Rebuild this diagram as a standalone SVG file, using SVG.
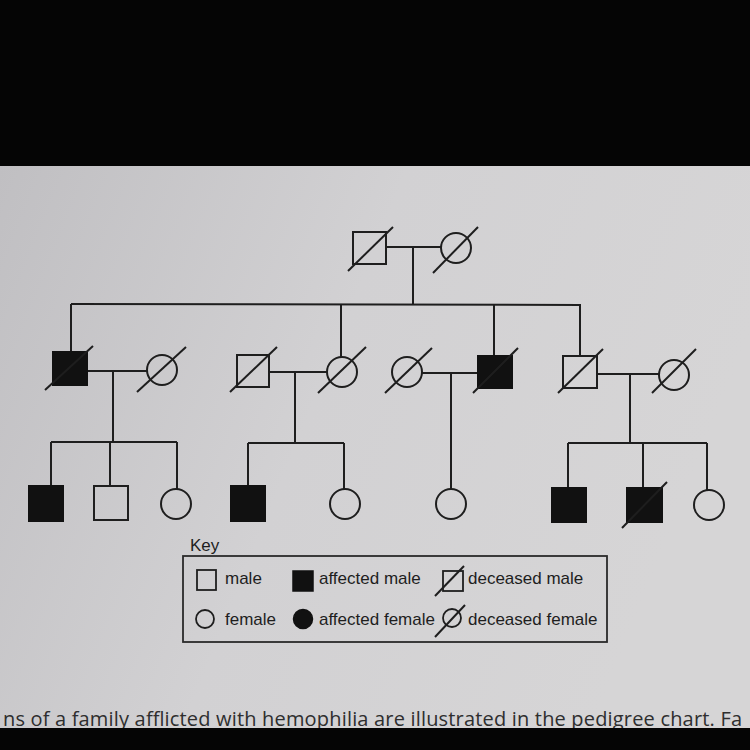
<svg xmlns="http://www.w3.org/2000/svg" width="750" height="750" viewBox="0 0 750 750">
  <defs>
    <linearGradient id="paper" x1="0" y1="0" x2="1" y2="0.3">
      <stop offset="0" stop-color="#c0bfc2"/>
      <stop offset="0.5" stop-color="#d2d1d3"/>
      <stop offset="1" stop-color="#d6d5d6"/>
    </linearGradient>
    <style>
      .ln { stroke: #1e1e1e; stroke-width: 2; fill: none; }
      .sym { stroke: #1e1e1e; stroke-width: 2; fill: none; }
      .aff { stroke: #111; stroke-width: 2; fill: #111; }
      .dec { stroke: #1e1e1e; stroke-width: 2; }
      .ks { stroke: #1e1e1e; stroke-width: 1.8; fill: none; }
      .kf { stroke: #111; stroke-width: 1.5; fill: #111; }
      .kt { font-family: "Liberation Sans", Arial, sans-serif; font-size: 17px; fill: #1e1e1e; }
    </style>
  </defs>

  <!-- background photo framing -->
  <rect x="0" y="0" width="750" height="750" fill="#050505"/>
  <rect x="0" y="166" width="750" height="562" fill="url(#paper)"/>

  <!-- connectors -->
  <g id="connectors" class="ln">
    <!-- generation I -->
    <line x1="386" y1="247" x2="441" y2="247"/>
    <line x1="413" y1="247" x2="413" y2="305"/>
    <line x1="71" y1="304" x2="581" y2="305"/>
    <line x1="71" y1="304" x2="71" y2="352"/>
    <line x1="341" y1="304" x2="341" y2="357"/>
    <line x1="494" y1="305" x2="494" y2="356"/>
    <line x1="580" y1="305" x2="580" y2="356"/>
    <!-- generation II couples -->
    <line x1="87" y1="371" x2="147" y2="371"/>
    <line x1="113" y1="371" x2="113" y2="442"/>
    <line x1="269" y1="372" x2="327" y2="372"/>
    <line x1="295" y1="372" x2="295" y2="443"/>
    <line x1="422" y1="373" x2="478" y2="373"/>
    <line x1="451" y1="373" x2="451" y2="489"/>
    <line x1="597" y1="374" x2="659" y2="374"/>
    <line x1="630" y1="374" x2="630" y2="443"/>
    <!-- generation III sibships -->
    <line x1="51" y1="442" x2="177" y2="442"/>
    <line x1="51" y1="442" x2="51" y2="486"/>
    <line x1="110" y1="442" x2="110" y2="486"/>
    <line x1="177" y1="442" x2="177" y2="489"/>
    <line x1="248" y1="443" x2="344" y2="443"/>
    <line x1="248" y1="443" x2="248" y2="486"/>
    <line x1="344" y1="443" x2="344" y2="489"/>
    <line x1="568" y1="443" x2="707" y2="443"/>
    <line x1="568" y1="443" x2="568" y2="488"/>
    <line x1="643" y1="443" x2="643" y2="488"/>
    <line x1="707" y1="443" x2="707" y2="490"/>
  </g>

  <!-- generation I -->
  <g id="I-1">
    <rect class="sym" x="353" y="232" width="33" height="32"/>
    <line class="dec" x1="348" y1="271" x2="393" y2="227"/>
  </g>
  <g id="I-2">
    <circle class="sym" cx="456" cy="248" r="15"/>
    <line class="dec" x1="433" y1="273" x2="478" y2="227"/>
  </g>

  <!-- generation II -->
  <g id="II-1">
    <rect class="aff" x="53" y="352" width="34" height="33"/>
    <line class="dec" x1="45" y1="390" x2="93" y2="346"/>
  </g>
  <g id="II-2">
    <circle class="sym" cx="162" cy="370" r="15"/>
    <line class="dec" x1="137" y1="392" x2="186" y2="347"/>
  </g>
  <g id="II-3">
    <rect class="sym" x="237" y="355" width="32" height="32"/>
    <line class="dec" x1="230" y1="392" x2="277" y2="347"/>
  </g>
  <g id="II-4">
    <circle class="sym" cx="342" cy="372" r="15"/>
    <line class="dec" x1="318" y1="393" x2="366" y2="347"/>
  </g>
  <g id="II-5">
    <circle class="sym" cx="407" cy="372" r="15"/>
    <line class="dec" x1="385" y1="393" x2="432" y2="348"/>
  </g>
  <g id="II-6">
    <rect class="aff" x="478" y="356" width="34" height="32"/>
    <line class="dec" x1="473" y1="393" x2="518" y2="348"/>
  </g>
  <g id="II-7">
    <rect class="sym" x="563" y="356" width="34" height="32"/>
    <line class="dec" x1="558" y1="393" x2="603" y2="349"/>
  </g>
  <g id="II-8">
    <circle class="sym" cx="674" cy="375" r="15"/>
    <line class="dec" x1="652" y1="393" x2="696" y2="349"/>
  </g>

  <!-- generation III -->
  <g id="III-1"><rect class="aff" x="29" y="486" width="34" height="35"/></g>
  <g id="III-2"><rect class="sym" x="94" y="486" width="34" height="34"/></g>
  <g id="III-3"><circle class="sym" cx="176" cy="504" r="15"/></g>
  <g id="III-4"><rect class="aff" x="231" y="486" width="34" height="35"/></g>
  <g id="III-5"><circle class="sym" cx="345" cy="504" r="15"/></g>
  <g id="III-6"><circle class="sym" cx="451" cy="504" r="15"/></g>
  <g id="III-7"><rect class="aff" x="552" y="488" width="34" height="34"/></g>
  <g id="III-8">
    <rect class="aff" x="627" y="488" width="35" height="34"/>
    <line class="dec" x1="622" y1="528" x2="667" y2="482"/>
  </g>
  <g id="III-9"><circle class="sym" cx="709" cy="505" r="15"/></g>

  <!-- key -->
  <g id="key">
    <text class="kt" x="190" y="551" font-size="15">Key</text>
    <rect x="183" y="556" width="424" height="86" fill="none" stroke="#2a2a2a" stroke-width="1.8"/>
    <rect class="ks" x="197" y="570" width="19" height="20"/>
    <text class="kt" x="225" y="584">male</text>
    <rect class="kf" x="293" y="571" width="20" height="20"/>
    <text class="kt" x="319" y="584">affected male</text>
    <rect class="ks" x="443" y="571" width="20" height="20"/>
    <line class="dec" stroke-width="1.8" x1="435" y1="596" x2="464" y2="566"/>
    <text class="kt" x="468" y="584">deceased male</text>
    <circle class="ks" cx="205" cy="619" r="9"/>
    <text class="kt" x="225" y="625">female</text>
    <circle class="kf" cx="303" cy="619" r="9.5"/>
    <text class="kt" x="319" y="625">affected female</text>
    <circle class="ks" cx="452" cy="618" r="9"/>
    <line class="dec" stroke-width="1.8" x1="435" y1="637" x2="465" y2="605"/>
    <text class="kt" x="468" y="625">deceased female</text>
  </g>

  <!-- caption fragment at bottom of photo -->
  <text x="3" y="726" font-family="'Open Sans', 'Noto Sans', sans-serif" font-size="20" fill="#2e2e2e" textLength="739" lengthAdjust="spacing">ns of a family afflicted with hemophilia are illustrated in the pedigree chart. Fa</text>
  <rect x="0" y="728" width="750" height="22" fill="#050505"/>
</svg>
